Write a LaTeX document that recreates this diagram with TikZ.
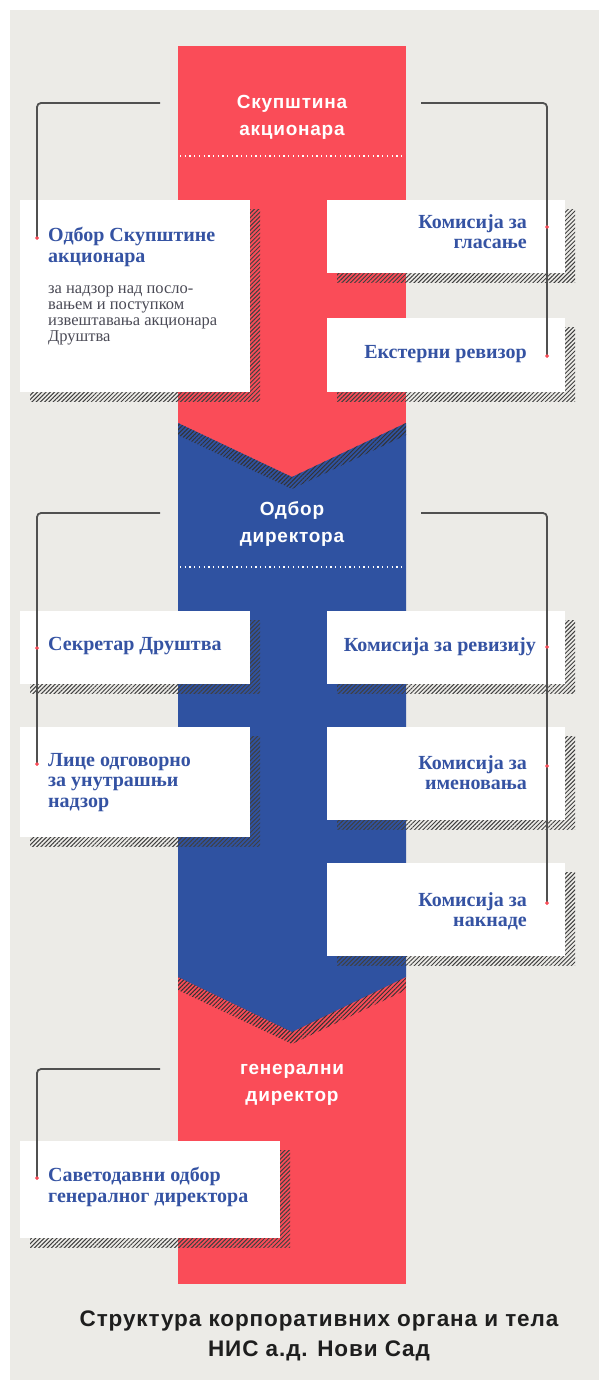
\documentclass[tikz,border=0pt]{standalone}
\usepackage{fontspec}
\setmainfont{Liberation Serif}
\newfontfamily\hsans[LetterSpace=4]{Liberation Sans}
\usetikzlibrary{patterns.meta,shadows}
\definecolor{bgc}{HTML}{ECEBE7}
\definecolor{redc}{HTML}{FA4C58}
\definecolor{bluec}{HTML}{2F52A1}
\definecolor{txtblue}{HTML}{3553A3}
\definecolor{subc}{HTML}{4A4A55}
\definecolor{connc}{HTML}{505050}
\definecolor{titlec}{HTML}{1E1E1E}
\begin{document}
\begin{tikzpicture}[x=1pt,y=-1pt,
  hatch/.style={pattern={Lines[angle=45,distance=3pt,line width=1pt]},pattern color=black!80},
  head/.style={text=white,font=\hsans\bfseries\fontsize{19}{27}\selectfont,align=center,inner sep=0pt},
  dotline/.style={white,line width=1.3pt,dash pattern=on 1.3pt off 3.4pt},
  box/.style={fill=white,inner sep=0pt,anchor=north west,
    general shadow={shadow xshift=10pt,shadow yshift=-9pt,pattern={Lines[angle=45,distance=3pt,line width=1pt]},pattern color=black!75}},
  ttl/.style={text=txtblue,font=\bfseries\fontsize{20}{20.5}\selectfont,inner sep=0pt},
  ttll/.style={ttl,anchor=north west,align=left},
  ttlr/.style={ttl,anchor=north east,align=right},
  sub/.style={text=subc,font=\fontsize{16.5}{16}\selectfont,inner sep=0pt,anchor=north west,align=left},
  dot/.style={circle,fill=redc,inner sep=0pt,minimum size=3.5pt},
  conn/.style={connc,line width=1.8pt,rounded corners=4pt}
]
\useasboundingbox (0,0) rectangle (599,1380);
\fill[white] (0,0) rectangle (599,1380);
\fill[bgc] (10,10) rectangle (599,1380);
% column
\fill[redc] (178,46) rectangle (406,1284);
\fill[bluec] (178,423) -- (292,477) -- (406,423) -- (406,977) -- (292,1032) -- (178,977) -- cycle;
\fill[hatch] (178,423) -- (292,477) -- (406,423) -- (406,435) -- (292,489) -- (178,435) -- cycle;
\fill[hatch] (178,977) -- (292,1032) -- (406,977) -- (406,990) -- (292,1044) -- (178,990) -- cycle;
% headers
\node[head] (gsm) at (292,117) {Скупштина\\акционара};
\node[head] (bod) at (292,523.5) {Одбор\\директора};
\node[head] (ceo) at (292,1084.5) {генерални\\директор};
\draw[dotline] (180,156) -- (404,156);
\draw[dotline] (180,567) -- (404,567);
% boxes
\node[box,minimum width=230pt,minimum height=192pt] (b1) at (20,200) {};
\node[box,minimum width=238pt,minimum height=73pt] (b2) at (327,200) {};
\node[box,minimum width=238pt,minimum height=74pt] (b3) at (327,318) {};
\node[box,minimum width=230pt,minimum height=73pt] (b4) at (20,611) {};
\node[box,minimum width=230pt,minimum height=110pt] (b5) at (20,727) {};
\node[box,minimum width=238pt,minimum height=73pt] (b6) at (327,611) {};
\node[box,minimum width=238pt,minimum height=93pt] (b7) at (327,727) {};
\node[box,minimum width=238pt,minimum height=93pt] (b8) at (327,863) {};
\node[box,minimum width=260pt,minimum height=97pt] (b9) at (20,1141) {};
% box texts
\node[ttll] (t1) at (48,227) {Одбор Скупштине\\акционара};
\node[sub] (s1) at (48,286) {за надзор над посло-\\вањем и поступком\\извештавања акционара\\Друштва};
\node[ttlr] (t2) at (527,214) {Комисија за\\гласање};
\node[ttlr] (t3) at (527,345) {Екстерни ревизор};
\node[ttll] (t4) at (48,637) {Секретар Друштва};
\node[ttll] (t5) at (48,753) {Лице одговорно\\за унутрашњи\\надзор};
\node[ttlr] (t6) at (536,637) {Комисија за ревизију};
\node[ttlr] (t7) at (527,755) {Комисија за\\именовања};
\node[ttlr] (t8) at (527,892) {Комисија за\\накнаде};
\node[ttll] (t9) at (48,1167) {Саветодавни одбор\\генералног директора};
% dots
\node[dot] (d1) at (37,238) {};
\node[dot] (d2) at (547,227) {};
\node[dot] (d3) at (547,356) {};
\node[dot] (d4) at (37,648) {};
\node[dot] (d5) at (37,764) {};
\node[dot] (d6) at (547,647) {};
\node[dot] (d7) at (547,766) {};
\node[dot] (d8) at (547,903) {};
\node[dot] (d9) at (37,1178) {};
% connectors
\coordinate (c1) at (160,103);
\coordinate (c2) at (421,103);
\coordinate (c3) at (160,513);
\coordinate (c4) at (421,513);
\coordinate (c5) at (160,1069);
\draw[conn] (c1) -| (d1.center);
\draw[conn] (c2) -| (d3.center);
\draw[conn] (c3) -| (d5.center);
\draw[conn] (c4) -| (d8.center);
\draw[conn] (c5) -| (d9.center);
\foreach \d in {d1,d2,d3,d4,d5,d6,d7,d8,d9} \fill[redc] (\d) circle (1.8pt);
% title
\node[font=\hsans\bfseries\fontsize{22.5}{30}\selectfont,align=center,text=titlec,inner sep=0pt] (title) at (319,1336) {Структура корпоративних органа и тела\\НИС а.д. Нови Сад};
\end{tikzpicture}
\end{document}
